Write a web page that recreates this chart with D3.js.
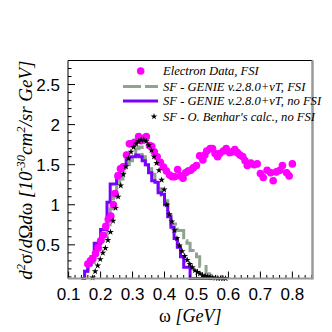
<!DOCTYPE html>
<html>
<head>
<meta charset="utf-8">
<script src="https://cdn.jsdelivr.net/npm/d3@7"></script>
<style>
  body { margin: 0; background: #fff; }
  svg { display: block; }
</style>
</head>
<body>
<svg id="chart"></svg>
<script>
// Electron data points (omega in GeV, cross section)
const electronX = [0.160, 0.168, 0.176, 0.184, 0.192, 0.200, 0.208, 0.216, 0.224, 0.232,
  0.240, 0.245, 0.254, 0.262, 0.270, 0.281, 0.290, 0.298, 0.306, 0.319,
  0.327, 0.335, 0.343, 0.353, 0.360, 0.368, 0.377, 0.387, 0.397, 0.406,
  0.416, 0.424, 0.432, 0.441, 0.450, 0.458, 0.466, 0.474, 0.482, 0.490,
  0.500, 0.510, 0.520, 0.526, 0.532, 0.543, 0.550, 0.558, 0.566, 0.573,
  0.584, 0.593, 0.604, 0.612, 0.620, 0.628, 0.636, 0.645, 0.652, 0.659,
  0.670, 0.680, 0.690, 0.700, 0.709, 0.721, 0.732, 0.740, 0.750, 0.761,
  0.769, 0.782, 0.790, 0.800];
const electronY = [0.26, 0.30, 0.33, 0.39, 0.46, 0.55, 0.62, 0.73, 0.82, 0.86,
  1.00, 1.14, 1.36, 1.45, 1.47, 1.62, 1.76, 1.76, 1.78, 1.85,
  1.80, 1.83, 1.85, 1.74, 1.73, 1.66, 1.60, 1.53, 1.47, 1.42,
  1.37, 1.35, 1.35, 1.44, 1.36, 1.33, 1.40, 1.42, 1.43, 1.46,
  1.49, 1.61, 1.56, 1.62, 1.67, 1.70, 1.70, 1.64, 1.60, 1.64,
  1.67, 1.70, 1.65, 1.66, 1.69, 1.65, 1.62, 1.60, 1.55, 1.49,
  1.52, 1.50, 1.51, 1.39, 1.34, 1.43, 1.40, 1.30, 1.41, 1.43,
  1.49, 1.40, 1.36, 1.51];
const ELECTRON_ERR = 0.04;

// GENIE histograms, 0.01 GeV bins starting at 0.14
const BIN_START = 0.14;
const BIN_WIDTH = 0.01;
const genieFsi = [0.08, 0.17, 0.20, 0.28, 0.38, 0.45, 0.55, 0.58, 0.75, 0.95,
  1.10, 1.22, 1.32, 1.40, 1.50, 1.55, 1.58, 1.70, 1.72, 1.60,
  1.50, 1.45, 1.38, 1.30, 1.20, 1.12, 1.05, 0.87, 0.76, 0.76,
  0.68, 0.68, 0.55, 0.52, 0.43, 0.43, 0.35, 0.23, 0.23, 0.14,
  0.12];
const genieNoFsi = [0.08, 0.17, 0.25, 0.35, 0.52, 0.52, 0.69, 0.69, 1.03, 1.26,
  1.26, 1.38, 1.45, 1.50, 1.58, 1.60, 1.60, 1.62, 1.60, 1.55,
  1.50, 1.40, 1.30, 1.28, 1.15, 1.13, 1.00, 0.85, 0.72, 0.58,
  0.47, 0.35, 0.22, 0.22, 0.08, 0.08, 0.08, 0.08, 0.08, 0.08,
  0.08];

// Benhar calculation
const benharX = [0.175, 0.183, 0.191, 0.199, 0.207, 0.215, 0.223, 0.231, 0.239, 0.247,
  0.255, 0.263, 0.271, 0.279, 0.287, 0.295, 0.303, 0.311, 0.319, 0.327,
  0.335, 0.343, 0.351, 0.359, 0.367, 0.375, 0.383, 0.391, 0.399, 0.407,
  0.415, 0.423, 0.431, 0.439, 0.447, 0.455, 0.463, 0.471, 0.479, 0.487,
  0.495, 0.503, 0.511, 0.519, 0.527, 0.535, 0.543, 0.551, 0.559, 0.567,
  0.575, 0.583, 0.591];
const benharY = [0.09, 0.17, 0.24, 0.32, 0.40, 0.46, 0.56, 0.66, 0.80, 0.96,
  1.10, 1.24, 1.38, 1.48, 1.58, 1.66, 1.72, 1.76, 1.79, 1.81,
  1.81, 1.79, 1.74, 1.68, 1.60, 1.52, 1.43, 1.31, 1.19, 1.00,
  0.88, 0.79, 0.68, 0.58, 0.49, 0.42, 0.36, 0.31, 0.26, 0.22,
  0.18, 0.16, 0.14, 0.12, 0.11, 0.10, 0.095, 0.09, 0.087, 0.085,
  0.083, 0.082, 0.081];

const xTicks = [0.1, 0.2, 0.3, 0.4, 0.5, 0.6, 0.7, 0.8];
const yTicks = [0.5, 1, 1.5, 2, 2.5];

const legendLabels = [
  "Electron Data, FSI",
  "SF - GENIE v.2.8.0+\u03BDT, FSI",
  "SF - GENIE v.2.8.0+\u03BDT, no FSI",
  "SF - O. Benhar's calc., no FSI"
];

const MAGENTA = "#ff00ff";
const GRAYGREEN = "#8fa391";
const VIOLET = "#7b00ff";

const WIDTH = 332;
const HEIGHT = 332;
const FRAME = { left: 68, right: 312.5, top: 60.5, bottom: 278.5 };

/**
 * Builds the x and y scales of the frame.
 */
function createScales() {
  var x = d3.scaleLinear().domain([0.098, 0.863]).range([FRAME.left, FRAME.right]);
  var y = d3.scaleLinear().domain([0.08, 2.8]).range([FRAME.bottom, FRAME.top]);
  return { x: x, y: y };
}

/**
 * Draws the ROOT-like frame, ticks and labels.
 */
function drawAxes(svg, x, y) {
  const g = svg.append("g").attr("class", "axes");

  // x ticks: major every 0.1, minor every 0.02
  const xMinor = d3.range(0.1, 0.861, 0.02);
  g.selectAll("line.xminor")
    .data(xMinor)
    .enter()
    .append("line")
    .attr("x1", (d) => x(d))
    .attr("x2", (d) => x(d))
    .attr("y1", FRAME.bottom)
    .attr("y2", (d) => {
      const isMajor = Math.abs(d * 10 - Math.round(d * 10)) < 1e-6;
      return FRAME.bottom - (isMajor ? 7 : 3.5);
    })
    .attr("stroke", "#000")
    .attr("stroke-width", 1);

  // y ticks: major every 0.5, minor every 0.1
  const yMinor = d3.range(0.1, 2.79, 0.1);
  g.selectAll("line.yminor")
    .data(yMinor)
    .enter()
    .append("line")
    .attr("y1", (d) => y(d))
    .attr("y2", (d) => y(d))
    .attr("x1", FRAME.left)
    .attr("x2", (d) => {
      const isMajor = Math.abs(d * 2 - Math.round(d * 2)) < 1e-6;
      return FRAME.left + (isMajor ? 7 : 3.5);
    })
    .attr("stroke", "#000")
    .attr("stroke-width", 1);

  // frame
  g.append("line")
    .attr("x1", FRAME.left).attr("x2", FRAME.right)
    .attr("y1", FRAME.top).attr("y2", FRAME.top)
    .attr("stroke", "#000").attr("stroke-width", 1);
  g.append("line")
    .attr("x1", FRAME.left).attr("x2", FRAME.left)
    .attr("y1", FRAME.top).attr("y2", FRAME.bottom)
    .attr("stroke", "#000").attr("stroke-width", 1);
  g.append("line")
    .attr("x1", FRAME.right).attr("x2", FRAME.right)
    .attr("y1", FRAME.top).attr("y2", FRAME.bottom + 1)
    .attr("stroke", "#999").attr("stroke-width", 2.5);
  g.append("line")
    .attr("x1", FRAME.left).attr("x2", FRAME.right)
    .attr("y1", FRAME.bottom).attr("y2", FRAME.bottom)
    .attr("stroke", "#999").attr("stroke-width", 2);

  // tick labels
  g.selectAll("text.xlab")
    .data(xTicks)
    .enter()
    .append("text")
    .attr("x", (d) => x(d))
    .attr("y", 300)
    .attr("text-anchor", "middle")
    .attr("font-family", "Liberation Sans, Arial, sans-serif")
    .attr("font-size", 17)
    .text((d) => d3.format(".1f")(d));

  g.selectAll("text.ylab")
    .data(yTicks)
    .enter()
    .append("text")
    .attr("x", 60)
    .attr("y", (d) => y(d) + 6)
    .attr("text-anchor", "end")
    .attr("font-family", "Liberation Sans, Arial, sans-serif")
    .attr("font-size", 17)
    .text((d) => String(d));

  // axis titles
  const xt = g.append("text")
    .attr("x", (FRAME.left + FRAME.right) / 2)
    .attr("y", 322)
    .attr("text-anchor", "middle")
    .attr("font-family", "Liberation Serif, Times New Roman, serif")
    .attr("font-size", 18);
  xt.append("tspan").text("\u03C9 ");
  xt.append("tspan").attr("font-style", "italic").text("[GeV]");

  const yt = g.append("text")
    .attr("transform", "translate(32," + FRAME.top + ") rotate(-90)")
    .attr("text-anchor", "end")
    .attr("font-family", "Liberation Serif, Times New Roman, serif")
    .attr("font-style", "italic")
    .attr("font-size", 19);
  yt.append("tspan").text("d");
  yt.append("tspan").attr("dy", -7).attr("font-size", 12.5).text("2");
  yt.append("tspan").attr("dy", 7).attr("font-style", "normal").text("\u03C3/");
  yt.append("tspan").text("d");
  yt.append("tspan").attr("font-style", "normal").text("\u03A9");
  yt.append("tspan").text("d");
  yt.append("tspan").attr("font-style", "normal").text("\u03C9 ");
  yt.append("tspan").text("[10");
  yt.append("tspan").attr("dy", -7).attr("font-size", 12.5).text("-30");
  yt.append("tspan").attr("dy", 7).text("cm");
  yt.append("tspan").attr("dy", -7).attr("font-size", 12.5).text("2");
  yt.append("tspan").attr("dy", 7).text("/sr GeV]");
}

/**
 * Builds step histogram points from the bin contents.
 */
function histPoints(values) {
  const pts = [];
  values.forEach((v, i) => {
    const lo = BIN_START + i * BIN_WIDTH;
    pts.push([lo, v]);
    pts.push([lo + BIN_WIDTH, v]);
  });
  return pts;
}

/**
 * Draws the two GENIE histograms.
 */
function drawHistograms(svg, x, y) {
  const line = d3.line().x((d) => x(d[0])).y((d) => y(d[1]));

  svg.append("path")
    .attr("d", line(histPoints(genieFsi)))
    .attr("fill", "none")
    .attr("stroke", GRAYGREEN)
    .attr("stroke-width", 3)
    .attr("stroke-dasharray", "18,4");

  svg.append("path")
    .attr("d", line(histPoints(genieNoFsi)))
    .attr("fill", "none")
    .attr("stroke", VIOLET)
    .attr("stroke-width", 3);
}

/**
 * Draws the electron data with red error bars and magenta dots.
 */
function drawElectron(svg, x, y) {
  const data = electronX.map((d, i) => ({ x: d, y: electronY[i] }));
  const g = svg.append("g").attr("class", "electron");
  g.selectAll("line")
    .data(data)
    .enter()
    .append("line")
    .attr("x1", (d) => x(d.x))
    .attr("x2", (d) => x(d.x))
    .attr("y1", (d) => y(d.y - ELECTRON_ERR))
    .attr("y2", (d) => y(d.y + ELECTRON_ERR))
    .attr("stroke", "#ff0000")
    .attr("stroke-width", 3);
  g.selectAll("circle")
    .data(data)
    .enter()
    .append("circle")
    .attr("cx", (d) => x(d.x))
    .attr("cy", (d) => y(d.y))
    .attr("r", 3.8)
    .attr("fill", MAGENTA);
}

/**
 * Draws the Benhar calculation as small black stars.
 */
function drawBenhar(svg, x, y) {
  const star = d3.symbol().type(d3.symbolStar).size(14);
  svg.append("g")
    .attr("class", "benhar")
    .selectAll("path")
    .data(benharX.map((d, i) => ({ x: d, y: benharY[i] })))
    .enter()
    .append("path")
    .attr("d", star)
    .attr("transform", (d) => "translate(" + x(d.x) + "," + y(d.y) + ")")
    .attr("fill", "#000");
}

/**
 * Draws the legend.
 */
function drawLegend(svg) {
  const rows = [71, 86.5, 101, 116.5];
  const g = svg.append("g").attr("class", "legend");

  g.append("circle").attr("cx", 140.7).attr("cy", rows[0]).attr("r", 3.8).attr("fill", MAGENTA);
  g.append("line")
    .attr("x1", 123).attr("x2", 158).attr("y1", rows[1]).attr("y2", rows[1])
    .attr("stroke", GRAYGREEN).attr("stroke-width", 3).attr("stroke-dasharray", "18,4");
  g.append("line")
    .attr("x1", 123).attr("x2", 158).attr("y1", rows[2]).attr("y2", rows[2])
    .attr("stroke", VIOLET).attr("stroke-width", 3);
  g.append("path")
    .attr("d", d3.symbol().type(d3.symbolStar).size(14))
    .attr("transform", "translate(154," + rows[3] + ")")
    .attr("fill", "#000");

  g.selectAll("text")
    .data(legendLabels)
    .enter()
    .append("text")
    .attr("x", 163)
    .attr("y", (d, i) => rows[i] + 4)
    .attr("font-family", "Liberation Serif, Times New Roman, serif")
    .attr("font-style", "italic")
    .attr("font-size", 12.6)
    .text((d) => d);
}

function createChart() {
  const svg = d3.select("#chart")
    .attr("width", WIDTH)
    .attr("height", HEIGHT);

  svg.append("rect").attr("width", WIDTH).attr("height", HEIGHT).attr("fill", "#fff");

  const { x, y } = createScales();

  drawHistograms(svg, x, y);
  drawElectron(svg, x, y);
  drawBenhar(svg, x, y);
  drawAxes(svg, x, y);
  drawLegend(svg);
}

createChart();
</script>
</body>
</html>
